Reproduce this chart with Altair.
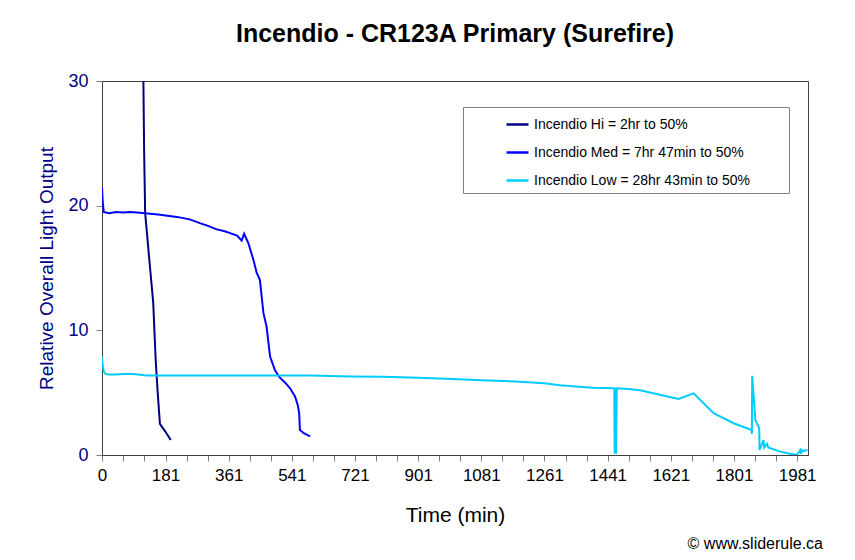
import pandas as pd
import altair as alt

# Incendio runtime data (minutes, relative output)
hi_t = [117, 118, 120, 123, 137, 146, 153, 159, 165, 180, 196]
hi_v = [31.5, 30.0, 24.5, 19.4, 15.0, 12.2, 7.6, 4.9, 2.5, 1.9, 1.2]

med_t = [0, 2, 5, 20, 40, 60, 80, 100, 122, 160, 213, 250, 279, 300, 327, 350,
         365, 385, 398, 405, 417, 431, 441, 450, 460, 469, 479, 493, 507, 522,
         536, 550, 558, 562, 564, 575, 593]
med_v = [21.5, 20.3, 19.5, 19.4, 19.5, 19.45, 19.5, 19.45, 19.4, 19.3, 19.1,
         18.9, 18.6, 18.4, 18.1, 17.95, 17.8, 17.6, 17.2, 17.75, 17.0, 15.7,
         14.6, 14.05, 11.4, 10.3, 7.9, 6.8, 6.2, 5.8, 5.35, 4.7, 4.0, 3.35,
         2.0, 1.75, 1.5]

low_t = [0, 2, 5, 10, 18, 40, 61, 90, 127, 200, 400, 595, 707, 800, 901, 1000,
         1081, 1180, 1261, 1305, 1350, 1400, 1460, 1461, 1463, 1465, 1467, 1500,
         1534, 1580, 1643, 1686, 1743, 1800, 1851, 1852, 1853, 1862, 1873, 1874,
         1885, 1887, 1895, 1899, 1933, 1960, 1980, 1990, 1992, 1995, 2000, 2005,
         2011]
low_v = [7.9, 7.2, 6.7, 6.5, 6.45, 6.45, 6.5, 6.5, 6.38, 6.38, 6.38, 6.38, 6.3,
         6.28, 6.2, 6.1, 6.0, 5.9, 5.75, 5.6, 5.5, 5.4, 5.35, 0.1, 5.35, 0.1,
         5.35, 5.3, 5.2, 4.9, 4.5, 4.95, 3.35, 2.55, 2.0, 1.7, 6.35, 2.8, 2.15,
         0.4, 1.2, 0.6, 0.9, 0.6, 0.27, 0.1, 0.0, 0.4, 0.1, 0.4, 0.3, 0.4, 0.35]

series = ["Incendio Hi = 2hr to 50%",
          "Incendio Med = 7hr 47min to 50%",
          "Incendio Low = 28hr 43min to 50%"]
colors = ["#000080", "#0000FF", "#00CCFF"]

x_ticks = [0] + list(range(61, 2012, 60))

frames = []
for name, t, v in zip(series, [hi_t, med_t, low_t], [hi_v, med_v, low_v]):
    frames.append(pd.DataFrame({"time": t, "output": v, "series": name, "order": range(len(t))}))
data = pd.concat(frames, ignore_index=True)

FONT = "Liberation Sans"

lines = alt.Chart(data).mark_line(clip=True, strokeWidth=2).encode(
    x=alt.X("time:Q",
            title="Time (min)",
            scale=alt.Scale(domain=[0, 2012], nice=False),
            axis=alt.Axis(values=x_ticks,
                          labelExpr="(datum.value == 0 || datum.value % 180 == 1) ? datum.label : ''",
                          format="d",
                          labelOverlap=False,
                          labelFlush=False,
                          labelFontSize=17,
                          labelPadding=6,
                          titleFontSize=21,
                          titleFontWeight="normal",
                          titlePadding=21)),
    y=alt.Y("output:Q",
            title="Relative Overall Light Output",
            scale=alt.Scale(domain=[0, 30], nice=False),
            axis=alt.Axis(values=[0, 10, 20, 30],
                          labelFontSize=18,
                          labelColor="#000080",
                          labelPadding=8,
                          titleColor="#000080",
                          titleFontSize=19,
                          titleFontWeight="normal",
                          titlePadding=11)),
    color=alt.Color("series:N",
                    scale=alt.Scale(domain=series, range=colors),
                    legend=alt.Legend(title=".",
                                      titleOrient="right",
                                      titleColor="white",
                                      titleFontSize=10,
                                      titlePadding=31,
                                      orient="none",
                                      legendX=361,
                                      legendY=26,
                                      symbolType="stroke",
                                      symbolSize=484,
                                      symbolStrokeWidth=2.5,
                                      symbolOffset=37,
                                      labelOffset=4,
                                      labelFontSize=14,
                                      labelFont=FONT,
                                      labelLimit=500,
                                      rowPadding=8,
                                      padding=5,
                                      strokeColor="#808080",
                                      fillColor="white")),
    detail="series:N",
    order="order:Q",
)

credit = alt.Chart(pd.DataFrame({"t": ["\u00a9 www.sliderule.ca"]})).mark_text(
    align="right", baseline="alphabetic", fontSize=16, font=FONT, color="black"
).encode(text="t:N", x=alt.value(721), y=alt.value(468))

chart = alt.layer(lines, credit).properties(
    width=706,
    height=374,
    autosize=alt.AutoSizeParams(type="none"),
    padding={"left": 94, "top": 73, "right": 39, "bottom": 97},
    background="white",
    title=alt.Title("Incendio - CR123A Primary (Surefire)",
                    font=FONT, fontSize=25, fontWeight="bold",
                    anchor="middle", offset=25, color="black"),
).configure_axis(
    grid=False,
    labelFont=FONT,
    titleFont=FONT,
    domainColor="#404040",
    tickColor="#808080",
    tickSize=6,
).configure_view(
    stroke="#404040",
    strokeWidth=1,
)

chart.save("out.html", embed_options={"renderer": "svg", "actions": False})
